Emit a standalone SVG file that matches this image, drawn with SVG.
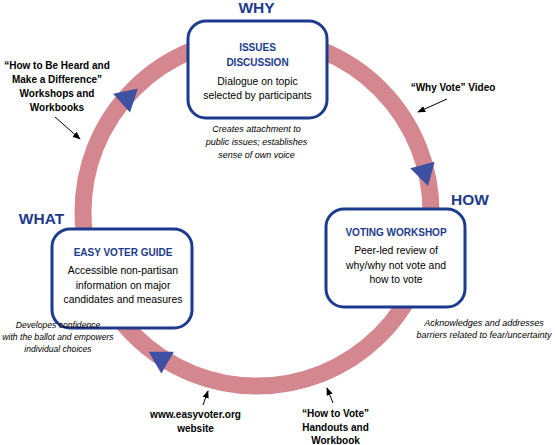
<svg xmlns="http://www.w3.org/2000/svg" width="555" height="445" viewBox="0 0 555 445">
<style>
.ring{fill:none;stroke:#d4878f;stroke-width:17}
.tri{fill:#3e50a2}
.box{fill:#fff;stroke:#1d3a8d;stroke-width:3}
.head{font-family:"Liberation Sans",Arial,sans-serif;font-weight:bold;font-size:10px;fill:#1d3a8d;text-anchor:middle}
.big{font-family:"Liberation Sans",Arial,sans-serif;font-weight:bold;font-size:15.5px;fill:#1d3a8d;text-anchor:middle}
.body{font-family:"Liberation Sans",Arial,sans-serif;font-size:10.4px;fill:#000;text-anchor:middle}
.cap{font-family:"Liberation Sans",Arial,sans-serif;font-style:italic;font-size:9px;fill:#000;text-anchor:middle}
.cap2{font-family:"Liberation Sans",Arial,sans-serif;font-style:italic;font-size:8.6px;fill:#000;text-anchor:middle}
.lab{font-family:"Liberation Sans",Arial,sans-serif;font-weight:bold;font-size:10px;fill:#000;text-anchor:middle}
.ptr{stroke:#000;stroke-width:1;fill:none;marker-end:url(#ah)}
</style>
<defs>
<marker id="ah" viewBox="0 0 10 10" refX="9" refY="5" markerWidth="8" markerHeight="8" markerUnits="userSpaceOnUse" orient="auto">
<path d="M0,1 L10,5 L0,9 Z" fill="#000"/>
</marker>
<path id="t" d="M14.6,0 L-7.3,12.6 L-7.3,-12.6 Z"/>
</defs>
<g id="cycle">
<circle class="ring" cx="257" cy="212" r="174"/>
<use href="#t" class="tri" transform="translate(127,98.3) rotate(-42)"/>
<use href="#t" class="tri" transform="translate(424.3,172) rotate(75)"/>
<use href="#t" class="tri" transform="translate(161.3,359) rotate(210)"/>
</g>
<g id="connectors">
<line class="ptr" x1="55" y1="117" x2="80" y2="139"/>
<line class="ptr" x1="447" y1="99" x2="418" y2="112"/>
<line class="ptr" x1="203" y1="405" x2="208" y2="391"/>
<line class="ptr" x1="333" y1="403" x2="327" y2="388"/>
</g>
<g id="why">
<text class="big" x="256.5" y="13">WHY</text>
</g>
<g id="how">
<text class="big" x="470" y="205">HOW</text>
</g>
<g id="what">
<text class="big" x="41.5" y="224">WHAT</text>
</g>
<g id="issues">
<rect class="box" x="188" y="21" width="139" height="97" rx="18"/>
<text class="head" x="257.5" y="51">ISSUES</text>
<text class="head" x="257.5" y="66">DISCUSSION</text>
<text class="body" x="257.5" y="85">Dialogue on topic</text>
<text class="body" x="257.5" y="99">selected by participants</text>
</g>
<g id="issues-note">
<text class="cap" x="256.5" y="132">Creates attachment to</text>
<text class="cap" x="256.5" y="145">public issues; establishes</text>
<text class="cap" x="256.5" y="158">sense of own voice</text>
</g>
<g id="workshop">
<rect class="box" x="326" y="209" width="139" height="98" rx="18"/>
<text class="head" x="396" y="236">VOTING WORKSHOP</text>
<text class="body" x="396" y="254">Peer-led review of</text>
<text class="body" x="396" y="268.5">why/why not vote and</text>
<text class="body" x="396" y="283">how to vote</text>
</g>
<g id="workshop-note">
<text class="cap" x="484" y="326">Acknowledges and addresses</text>
<text class="cap" x="484" y="338">barriers related to fear/uncertainty</text>
</g>
<g id="guide">
<rect class="box" x="52" y="229" width="140" height="99" rx="18"/>
<text class="head" x="123" y="256">EASY VOTER GUIDE</text>
<text class="body" x="123" y="274">Accessible non-partisan</text>
<text class="body" x="123" y="288.5">information on major</text>
<text class="body" x="123" y="303">candidates and measures</text>
</g>
<g id="guide-note">
<text class="cap2" x="58" y="328">Developes confidence</text>
<text class="cap2" x="58" y="340">with the ballot and empowers</text>
<text class="cap2" x="58" y="352">individual choices</text>
</g>
<g id="heard">
<text class="lab" x="57" y="69">“How to Be Heard and</text>
<text class="lab" x="57" y="83">Make a Difference”</text>
<text class="lab" x="57" y="97">Workshops and</text>
<text class="lab" x="57" y="111">Workbooks</text>
</g>
<g id="video">
<text class="lab" x="453" y="91">“Why Vote” Video</text>
</g>
<g id="website">
<text class="lab" x="195.5" y="418">www.easyvoter.org</text>
<text class="lab" x="195.5" y="432">website</text>
</g>
<g id="handouts">
<text class="lab" x="335.5" y="417">“How to Vote”</text>
<text class="lab" x="335.5" y="431">Handouts and</text>
<text class="lab" x="335.5" y="444">Workbook</text>
</g>
</svg>
